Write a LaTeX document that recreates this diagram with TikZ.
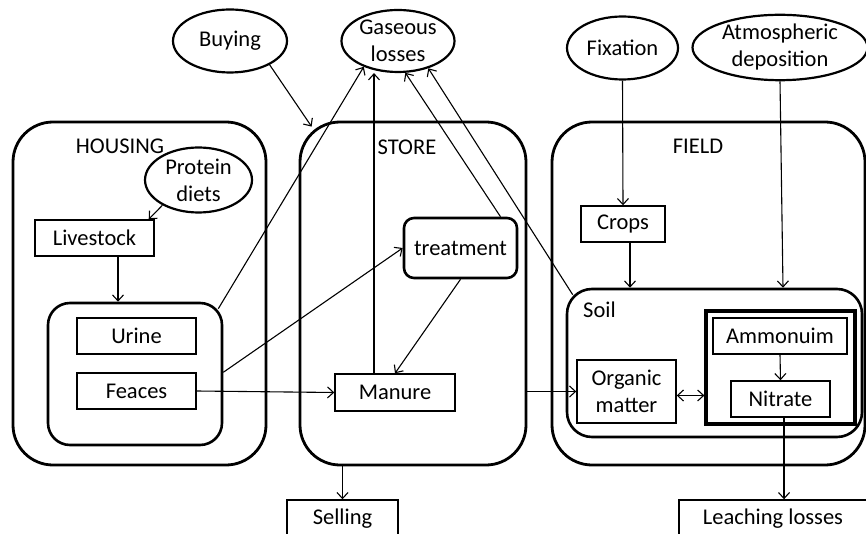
\documentclass[tikz,border=0pt]{standalone}
\usepackage{fontspec}
\setmainfont{Carlito}
\usetikzlibrary{shapes.geometric,arrows.meta,calc}
\begin{document}
\begin{tikzpicture}[x=1pt,y=-1pt,
  every node/.style={font=\fontsize{22.5}{27}\selectfont, inner sep=0pt},
  box/.style={draw, line width=1.4pt},
  ell/.style={draw, ellipse, line width=2.2pt, align=center},
  cont/.style={draw, line width=2.8pt, rounded corners=40pt},
  sub/.style={draw, line width=2.6pt, rounded corners=22pt},
  arr/.style={line width=1.1pt, -{Straight Barb[length=6pt,width=11pt]}},
  arrb/.style={line width=1.1pt, {Straight Barb[length=6pt,width=11pt]}-{Straight Barb[length=6pt,width=11pt]}},
]
\useasboundingbox (0,0) rectangle (866,534);
% containers
\node[cont, minimum width=253pt, minimum height=343pt] (housing) at (139.5,293.5) {};
\node[cont, minimum width=226pt, minimum height=343pt] (store) at (413,293.5) {};
\node[cont, minimum width=313pt, minimum height=343pt] (field) at (708.5,293.5) {};
\node (housingT) at (120,146) {HOUSING};
\node (storeT) at (407,147) {STORE};
\node (fieldT) at (698,146) {FIELD};
% ellipses
\node[ell, minimum width=114pt, minimum height=63pt] (buying) at (230,41) {Buying};
\node[ell, minimum width=113pt, minimum height=62pt] (gas) at (398,41) {Gaseous\\losses};
\node[ell, minimum width=111pt, minimum height=63pt] (fix) at (622.5,48) {Fixation};
\node[ell, minimum width=175pt, minimum height=65pt] (atmos) at (780,47.5) {Atmospheric\\deposition};
\node[ell, minimum width=107pt, minimum height=65pt] (prot) at (198.5,180) {Protein\\diets};
% housing content
\node[box, minimum width=119pt, minimum height=36pt] (livestock) at (94.5,238) {Livestock};
\node[sub, minimum width=174pt, minimum height=142pt] (group) at (135,374) {};
\node[box, minimum width=119pt, minimum height=36pt] (urine) at (136.5,336) {Urine};
\node[box, minimum width=119pt, minimum height=36pt] (feaces) at (136.5,391) {Feaces};
% store content
\node[box, line width=2.6pt, rounded corners=10pt, minimum width=113pt, minimum height=60pt] (treat) at (460.5,248) {treatment};
\node[box, minimum width=120pt, minimum height=37pt] (manure) at (395,392.5) {Manure};
\node[box, minimum width=111pt, minimum height=37pt] (selling) at (342.5,518.5) {Selling};
% field content
\node[box, minimum width=84pt, minimum height=36pt] (crops) at (623,224) {Crops};
\node[sub, rounded corners=25pt, minimum width=295pt, minimum height=148pt] (soil) at (714.5,363) {};
\node[anchor=west] (soilT) at (583,310) {Soil};
\node[box, align=center, minimum width=99pt, minimum height=63pt] (organic) at (626.5,391.5) {Organic\\matter};
\node[draw, line width=3.2pt, minimum width=149pt, minimum height=113pt] (thick) at (780.5,367.5) {};
\node[box, minimum width=134pt, minimum height=36pt] (ammon) at (780,336) {Ammonuim};
\node[box, minimum width=99pt, minimum height=36pt] (nitrate) at (780.5,399) {Nitrate};
\node[box, minimum width=188pt, minimum height=37pt] (leach) at (773,518.5) {Leaching losses};
% helper coordinates
\coordinate (mg) at ($(manure.north)+(-21,0)$);
\coordinate (lg) at ($(livestock.south)+(23.5,0)$);
\coordinate (cs) at ($(crops.south)+(7,0)$);
\coordinate (om) at ($(organic.east)+(0,4)$);
\coordinate (nl) at ($(nitrate.south)+(3.5,0)$);
% connectors
\draw[arr] (buying.329) -- ($(store.north west)+(13,6)$);
\draw[arr] ($(group.north east)+(-5,7)$) -- (gas.217);
\draw[arr] (mg) -- (mg |- gas.south);
\draw[arr] ($(treat.north)+(40,0)$) -- (gas.283);
\draw[arr] ($(soil.north west)+(7,7)$) -- (gas.318);
\draw[arr] (group.east |- feaces.north) -- (treat.west);
\draw[arr] (treat.south) -- (manure.north);
\draw[arr] (feaces.east) -- (manure.west);
\draw[arr] (store.east |- organic.west) -- (organic.west);
\draw[arr] (store.south -| selling.north) -- (selling.north);
\draw[arr] (lg) -- (lg |- group.north);
\draw[arr] (prot.215) -- ($(livestock.north east)+(-6,0)$);
\draw[arr] (fix.south) -- (crops.north);
\draw[arr] (cs) -- (cs |- soil.north);
\draw[arr] (atmos.south) -- ($(atmos.south |- soil.north)+(3,0)$);
\draw[arr] (ammon.south) -- (nitrate.north);
\draw[arrb] (om) -- (om -| thick.west);
\draw[arr] (nl) -- (nl |- leach.north);
\end{tikzpicture}
\end{document}
